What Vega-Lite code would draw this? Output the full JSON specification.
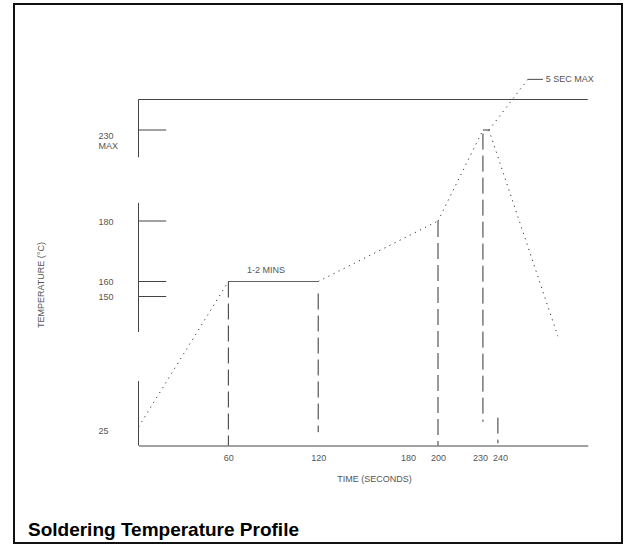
{
  "$schema": "https://vega.github.io/schema/vega-lite/v6.json",
  "width": 608,
  "height": 539,
  "autosize": {"type": "none"},
  "padding": {"left": 14, "top": 4, "right": 6, "bottom": 3},
  "background": "white",
  "config": {
    "view": {"stroke": "#111", "strokeWidth": 2},
    "font": "Liberation Sans"
  },
  "title": {
    "text": "Soldering Temperature Profile",
    "orient": "bottom",
    "anchor": "start",
    "frame": "group",
    "offset": -7,
    "dx": 14,
    "font": "Liberation Sans",
    "fontSize": 19,
    "fontWeight": "bold",
    "color": "#000",
    "baseline": "alphabetic"
  },
  "datasets": {
    "profile": [
      {"seg": "A", "style": "dotted", "t": 0, "temp": 25},
      {"seg": "A", "style": "dotted", "t": 60, "temp": 160},
      {"seg": "B", "style": "solid", "t": 60, "temp": 160},
      {"seg": "B", "style": "solid", "t": 120, "temp": 160},
      {"seg": "C", "style": "dotted", "t": 120, "temp": 160},
      {"seg": "C", "style": "dotted", "t": 200, "temp": 180},
      {"seg": "D", "style": "dotted", "t": 200, "temp": 180},
      {"seg": "D", "style": "dotted", "t": 230, "temp": 230},
      {"seg": "E", "style": "solid", "t": 230, "temp": 230},
      {"seg": "E", "style": "solid", "t": 234, "temp": 230},
      {"seg": "F", "style": "dotted", "t": 234, "temp": 230},
      {"seg": "F", "style": "dotted", "t": 280, "temp": 112},
      {"seg": "G", "style": "dotted", "t": 234, "temp": 230},
      {"seg": "G", "style": "dotted", "t": 260, "temp": 263.2},
      {"seg": "H", "style": "solid", "t": 260, "temp": 263.2},
      {"seg": "H", "style": "solid", "t": 270, "temp": 263.2}
    ],
    "guides": [
      {"t": 60, "temp": 160, "temp2": 0},
      {"t": 120, "temp": 152, "temp2": 18},
      {"t": 200, "temp": 180, "temp2": 0},
      {"t": 230, "temp": 228, "temp2": 30},
      {"t": 240, "temp": 34, "temp2": 3}
    ],
    "axisSegs": [
      {"t": 0, "temp": 250, "temp2": 215},
      {"t": 0, "temp": 190, "temp2": 116},
      {"t": 0, "temp": 69, "temp2": 0}
    ],
    "hlines": [
      {"t": 0, "t2": 300, "temp": 250},
      {"t": 0, "t2": 18.5, "temp": 230},
      {"t": 0, "t2": 18.5, "temp": 180},
      {"t": 0, "t2": 18.5, "temp": 160},
      {"t": 0, "t2": 18.5, "temp": 150}
    ],
    "notes": [
      {"t": 72.5, "temp": 163.9, "label": "1-2 MINS"},
      {"t": 272, "temp": 263.2, "label": "5 SEC MAX"}
    ]
  },
  "layer": [
    {
      "data": {"name": "profile"},
      "mark": {"type": "line", "strokeWidth": 1, "color": "#333"},
      "encoding": {
        "x": {
          "field": "t", "type": "quantitative",
          "title": "TIME (SECONDS)",
          "scale": {"domain": [0, 300], "range": [124.5, 573.75], "nice": false, "zero": false},
          "axis": {
            "values": [60, 120, 180, 200, 230, 240],
            "orient": "bottom",
            "offset": -97.5,
            "ticks": false,
            "tickSize": 0,
            "grid": false,
            "domainColor": "#444",
            "domainWidth": 1,
            "labelPadding": 11.5,
            "labelBaseline": "middle",
            "labelFontSize": 9,
            "labelFont": "Liberation Sans",
            "labelColor": "#555",
            "labelFlush": false,
            "labelOverlap": false,
            "labelOffset": {"condition": [{"test": "datum.value == 230", "value": -3}, {"test": "datum.value == 240", "value": 2}], "value": 0},
            "title": "TIME (SECONDS)",
            "titleX": 360,
            "titleY": 32.5,
            "titleAlign": "center",
            "titleBaseline": "middle",
            "titleFontSize": 9,
            "titleFontWeight": "normal",
            "titleFont": "Liberation Sans",
            "titleColor": "#555"
          }
        },
        "y": {
          "field": "temp", "type": "quantitative",
          "title": "TEMPERATURE (°C)",
          "scale": {"domain": [0, 25, 150, 160, 180, 230, 250], "range": [441.5, 423, 292.5, 277.5, 217, 126, 95.5], "nice": false, "zero": false},
          "axis": {
            "values": [25, 150, 160, 180, 230],
            "orient": "left",
            "offset": -84,
            "ticks": false,
            "tickSize": 0,
            "domain": false,
            "grid": false,
            "labelAlign": "left",
            "labelPadding": 0,
            "labelBaseline": "middle",
            "labelFontSize": 9,
            "labelFont": "Liberation Sans",
            "labelColor": "#555",
            "labelLineHeight": 10,
            "labelOverlap": false,
            "labelFlush": false,
            "labelExpr": "datum.value == 230 ? ['230', 'MAX'] : datum.label",
            "labelOffset": {"condition": [{"test": "datum.value == 230", "value": 5}, {"test": "datum.value == 25", "value": 3}], "value": 0},
            "title": "TEMPERATURE (°C)",
            "titleX": -58,
            "titleY": 280.5,
            "titleAngle": 270,
            "titleAlign": "center",
            "titleBaseline": "middle",
            "titleFontSize": 9,
            "titleFontWeight": "normal",
            "titleFont": "Liberation Sans",
            "titleColor": "#555"
          }
        },
        "detail": {"field": "seg", "type": "nominal"},
        "strokeDash": {
          "field": "style", "type": "nominal",
          "scale": {"domain": ["solid", "dotted"], "range": [[1, 0], [1.2, 4.5]]},
          "legend": null
        }
      }
    },
    {
      "data": {"name": "guides"},
      "mark": {"type": "rule", "strokeWidth": 1, "color": "#333", "strokeDash": [16, 6]},
      "encoding": {
        "x": {"field": "t", "type": "quantitative", "title": "TIME (SECONDS)"},
        "y": {"field": "temp", "type": "quantitative", "title": "TEMPERATURE (°C)"},
        "y2": {"field": "temp2"}
      }
    },
    {
      "data": {"name": "axisSegs"},
      "mark": {"type": "rule", "strokeWidth": 1, "color": "#444"},
      "encoding": {
        "x": {"field": "t", "type": "quantitative", "title": "TIME (SECONDS)"},
        "y": {"field": "temp", "type": "quantitative", "title": "TEMPERATURE (°C)"},
        "y2": {"field": "temp2"}
      }
    },
    {
      "data": {"name": "hlines"},
      "mark": {"type": "rule", "strokeWidth": 1, "color": "#444"},
      "encoding": {
        "x": {"field": "t", "type": "quantitative", "title": "TIME (SECONDS)"},
        "x2": {"field": "t2"},
        "y": {"field": "temp", "type": "quantitative", "title": "TEMPERATURE (°C)"}
      }
    },
    {
      "data": {"name": "notes"},
      "mark": {"type": "text", "align": "left", "baseline": "middle", "font": "Liberation Sans", "fontSize": 9, "color": "#555"},
      "encoding": {
        "x": {"field": "t", "type": "quantitative", "title": "TIME (SECONDS)"},
        "y": {"field": "temp", "type": "quantitative", "title": "TEMPERATURE (°C)"},
        "text": {"field": "label", "type": "nominal"}
      }
    }
  ]
}
